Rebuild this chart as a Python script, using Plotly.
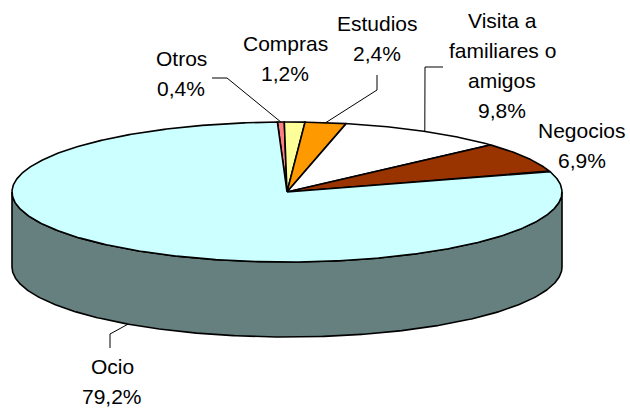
import numpy as np
import plotly.graph_objects as go

# Trip purpose shares (%)
categories = ["Otros", "Compras", "Estudios", "Visita a familiares o amigos", "Negocios", "Ocio"]
shares = [0.4, 1.2, 2.4, 9.8, 6.9, 79.2]
# How each category name is broken over lines in its label
name_lines = [["Otros"], ["Compras"], ["Estudios"], ["Visita a", "familiares o", "amigos"], ["Negocios"], ["Ocio"]]

# Slice styling
top_colors = ["#FF8080", "#FFFF99", "#FF9900", "#FFFFFF", "#993300", "#CCFFFF"]
side_colors = ["#804040", "#80804D", "#804D00", "#808080", "#4D1A00", "#668080"]

# Pie geometry in page pixels (tilted disc)
CX, CY = 287.0, 192.0
RX, RY = 275.0, 70.0
DEPTH = 75.0
START_DEG = -2.0
FONT = dict(family="Liberation Sans, Arial, sans-serif", size=21, color="black")
LINE_GAP = 30.0

# Label layout: centre x and baseline of first line
label_layout = {
    "Otros": (181, 66.5),
    "Compras": (285, 51.5),
    "Estudios": (377, 31.5),
    "Visita a familiares o amigos": (502, 28.5),
    "Negocios": (582, 138.5),
    "Ocio": (112, 374.5),
}
# Leader line start and knee points; the end is taken from the slice
leader_layout = {
    "Otros": [(212, 78), (227, 78)],
    "Estudios": [(377, 75), (377, 90)],
    "Visita a familiares o amigos": [(443, 67), (425, 67)],
    "Ocio": [(110, 348), (110, 334)],
}


def rim(theta_deg, drop=0.0):
    t = np.radians(theta_deg)
    return CX + RX * np.sin(t), CY - RY * np.cos(t) + drop


def arc(a0, a1, drop=0.0):
    n = max(2, int(abs(a1 - a0) * 2) + 2)
    th = np.linspace(a0, a1, n)
    return rim(th, drop)


total = sum(shares)
bounds = [START_DEG]
for v in shares:
    bounds.append(bounds[-1] + 360.0 * v / total)

fig = go.Figure()

# Side wall: only the front half of the disc (90..270 deg) faces the viewer
for i, v in enumerate(shares):
    a0, a1 = bounds[i], bounds[i + 1]
    for shift in (0.0, -360.0):
        lo, hi = max(a0 + shift, 90.0), min(a1 + shift, 270.0)
        if hi > lo:
            tx, ty = arc(lo, hi)
            bx, by = arc(hi, lo, DEPTH)
            xs = np.concatenate([tx, bx, tx[:1]])
            ys = np.concatenate([ty, by, ty[:1]])
            fig.add_trace(go.Scatter(
                x=xs, y=ys, mode="lines", fill="toself",
                fillcolor=side_colors[i],
                line=dict(color="black", width=1.6),
                hoverinfo="skip", showlegend=False))

# Top face slices
for i, v in enumerate(shares):
    a0, a1 = bounds[i], bounds[i + 1]
    ax, ay = arc(a0, a1)
    xs = np.concatenate([[CX], ax, [CX]])
    ys = np.concatenate([[CY], ay, [CY]])
    fig.add_trace(go.Scatter(
        x=xs, y=ys, mode="lines", fill="toself",
        fillcolor=top_colors[i],
        line=dict(color="black", width=1.6),
        hoverinfo="skip", showlegend=False, name=categories[i]))

# Leader lines from labels to the slice edge
for i, cat in enumerate(categories):
    if cat not in leader_layout:
        continue
    mid = (bounds[i] + bounds[i + 1]) / 2.0
    m = mid % 360.0
    drop = DEPTH if 90.0 < m < 270.0 else 0.0
    ex, ey = rim(mid, drop)
    pts = leader_layout[cat] + [(ex, ey)]
    fig.add_trace(go.Scatter(
        x=[p[0] for p in pts], y=[p[1] for p in pts], mode="lines",
        line=dict(color="black", width=1),
        hoverinfo="skip", showlegend=False))

# Labels: name lines followed by the percentage
annotations = []
for i, cat in enumerate(categories):
    pct = f"{shares[i]:.1f}".replace(".", ",") + "%"
    lines = name_lines[i] + [pct]
    lx, base = label_layout[cat]
    for k, txt in enumerate(lines):
        annotations.append(dict(
            x=lx, y=base + k * LINE_GAP - 0.36 * FONT["size"],
            xref="x", yref="y", text=txt, showarrow=False,
            xanchor="center", yanchor="middle", font=FONT))

fig.update_layout(
    width=630, height=408,
    margin=dict(l=0, r=0, t=0, b=0),
    paper_bgcolor="white", plot_bgcolor="white",
    xaxis=dict(range=[0, 630], visible=False, fixedrange=True),
    yaxis=dict(range=[408, 0], visible=False, fixedrange=True),
    annotations=annotations,
    showlegend=False,
)

fig.write_html("out.html")
